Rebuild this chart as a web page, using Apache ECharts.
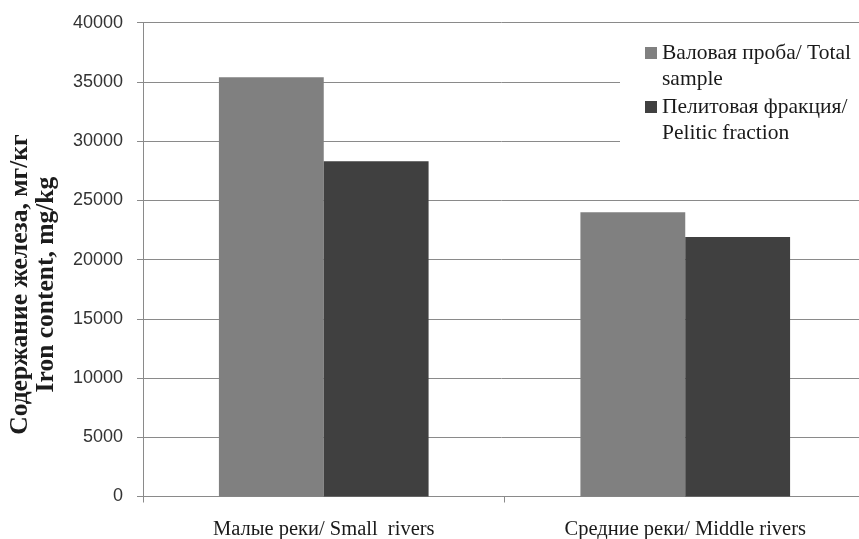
<!DOCTYPE html>
<html>
<head>
<meta charset="utf-8">
<style>
  html, body { margin: 0; padding: 0; background: #ffffff; }
  #chart { width: 859px; height: 539px; }
</style>
<script src="https://cdn.jsdelivr.net/npm/echarts@6/dist/echarts.min.js"></script>
</head>
<body>
<div id="chart"></div>
<script>
// River groups on the category axis
const categories = ['Малые реки/ Small  rivers', 'Средние реки/ Middle rivers'];

// Iron content, mg/kg
const totalSample = [35400, 24000];
const peliticFraction = [28300, 21900];

const seriesNames = ['Валовая проба/ Total\nsample', 'Пелитовая фракция/\nPelitic fraction'];

const yTicks = { min: 0, max: 40000, step: 5000 };

// Legend marker: a square aligned with the first line of a two-line label
const markerPath = 'path://M0,7L12,7L12,19L0,19Z M0,0L0.01,0Z M0,52L0.01,52Z';

const serif = '"Liberation Serif", "Times New Roman", serif';

const chart = echarts.init(document.getElementById('chart'), null, { renderer: 'canvas' });

chart.setOption({
  animation: false,
  backgroundColor: '#ffffff',
  grid: {
    left: 143, top: 22.7, width: 723, height: 473.8,
    containLabel: false, outerBoundsMode: 'none'
  },
  legend: {
    left: 620,
    top: 30,
    orient: 'vertical',
    backgroundColor: '#ffffff',
    padding: [10, 30, 10, 25],
    itemGap: 2,
    itemWidth: 12,
    itemHeight: 52,
    icon: markerPath,
    textStyle: { fontFamily: serif, fontSize: 21.5, color: '#1a1a1a', lineHeight: 26 },
    data: seriesNames
  },
  xAxis: {
    type: 'category',
    data: categories,
    axisLine: { lineStyle: { color: '#8a8a8a', width: 1 } },
    axisTick: { show: true, length: 6, lineStyle: { color: '#8a8a8a' } },
    axisLabel: { fontFamily: serif, fontSize: 20.5, color: '#1a1a1a', margin: 23 }
  },
  yAxis: {
    type: 'value',
    min: yTicks.min,
    max: yTicks.max,
    interval: yTicks.step,
    name: 'Содержание железа, мг/кг\nIron content, mg/kg',
    nameLocation: 'middle',
    nameGap: 84,
    nameTextStyle: {
      fontFamily: serif, fontSize: 25.5, fontWeight: 'bold', color: '#1c1c1c',
      lineHeight: 26, padding: [0, 50, 0, 0]
    },
    axisLine: { show: true, lineStyle: { color: '#8a8a8a', width: 1 } },
    axisTick: { show: true, length: 6, lineStyle: { color: '#8a8a8a' } },
    splitLine: { show: true, lineStyle: { color: '#8a8a8a', width: 1 } },
    axisLabel: {
      fontFamily: '"Liberation Sans", Arial, sans-serif', fontSize: 18, color: '#333333', margin: 20,
      formatter: (v) => String(v)
    }
  },
  series: [
    {
      name: seriesNames[0],
      type: 'bar',
      data: totalSample,
      barGap: '0%',
      barCategoryGap: '42%',
      itemStyle: { color: '#808080' }
    },
    {
      name: seriesNames[1],
      type: 'bar',
      data: peliticFraction,
      barGap: '0%',
      barCategoryGap: '42%',
      itemStyle: { color: '#404040' }
    }
  ]
});
</script>
</body>
</html>
